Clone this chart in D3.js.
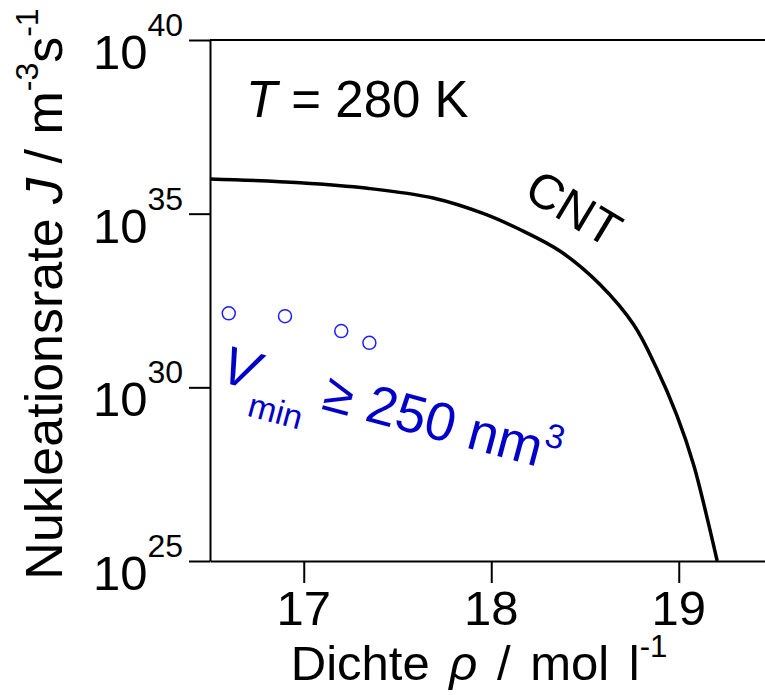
<!DOCTYPE html>
<html>
<head>
<meta charset="utf-8">
<script src="https://cdn.jsdelivr.net/npm/d3@7"></script>
<style>
  body { margin: 0; background: #fff; }
  svg { font-family: "Liberation Sans", Arial, Helvetica, sans-serif; }
</style>
</head>
<body>
<svg width="765" height="695"></svg>
<script>
// CNT curve (rho in mol/l, log10 J)
const cntRho = [16.5, 16.98, 17.34, 17.69, 17.96, 18.15, 18.37, 18.58, 18.76, 18.88, 18.99, 19.08, 19.15, 19.205]
const cntLogJ = [36.0, 35.89, 35.73, 35.45, 35.0, 34.55, 33.91, 32.96, 31.8, 30.57, 29.19, 27.76, 26.27, 25.0]

// simulation points, V_min >= 250 nm^3
const simRho = [16.6, 16.9, 17.2, 17.35]
const simLogJ = [32.13, 32.05, 31.62, 31.28]

const xTicks = [17, 18, 19]
const yTickExp = [25, 30, 35, 40]

const svg = d3.select("svg")
const plotL = 210, plotR = 765, plotT = 40, plotB = 561

const x = d3.scaleLinear().domain([16.5, 19.46]).range([plotL, plotR])
const y = d3.scaleLog().domain([1e25, 1e40]).range([plotB, plotT])

// frame
svg.append("line")
    .attr("x1", plotL).attr("x2", plotR)
    .attr("y1", plotT).attr("y2", plotT)
    .attr("stroke", "#000").attr("stroke-width", 2)

const xAxis = svg.append("g")
    .attr("transform", "translate(0," + plotB + ")")
    .call(d3.axisBottom(x).tickValues(xTicks).tickSize(22).tickSizeOuter(0).tickFormat(""))
xAxis.selectAll("line, path").attr("stroke", "#000").attr("stroke-width", 2)

const yAxis = svg.append("g")
    .attr("transform", "translate(" + plotL + ",0)")
    .call(d3.axisLeft(y).tickValues(yTickExp.map(e => Math.pow(10, e))).tickSize(21).tickSizeOuter(0).tickFormat(""))
yAxis.selectAll("line, path").attr("stroke", "#000").attr("stroke-width", 2)

// x tick labels
svg.append("g").selectAll("text")
    .data(xTicks)
    .enter().append("text")
    .attr("x", d => x(d))
    .attr("y", 625)
    .attr("text-anchor", "middle")
    .attr("font-size", 49)
    .text(d => d)

// y tick labels 10^n
const yl = svg.append("g").selectAll("text")
    .data(yTickExp)
    .enter().append("text")
    .attr("x", 183)
    .attr("y", d => y(Math.pow(10, d)) + 29)
    .attr("text-anchor", "end")
    .attr("font-size", 49)
yl.append("tspan").text("10")
yl.append("tspan").attr("font-size", 32).attr("dy", -33).text(d => d)

// axis titles
const xt = svg.append("text")
    .attr("x", 479).attr("y", 680)
    .attr("text-anchor", "middle")
    .attr("font-size", 49)
    .attr("word-spacing", 6)
xt.append("tspan").text("Dichte ")
xt.append("tspan").attr("font-style", "italic").text("ρ")
xt.append("tspan").text(" / mol l")
xt.append("tspan").attr("font-size", 31).attr("dy", -23).text("-1")

const yt = svg.append("text")
    .attr("transform", "translate(62,294) rotate(-90)")
    .attr("text-anchor", "middle")
    .attr("font-size", 52)
yt.append("tspan").text("Nukleationsrate ")
yt.append("tspan").attr("font-style", "italic").text("J")
yt.append("tspan").text(" / m")
yt.append("tspan").attr("font-size", 32).attr("dy", -24).text("-3")
yt.append("tspan").attr("dy", 24).text("s")
yt.append("tspan").attr("font-size", 32).attr("dy", -24).text("-1")

// CNT curve
const cnt = cntRho.map((r, i) => [r, Math.pow(10, cntLogJ[i])])
svg.append("path")
    .datum(cnt)
    .attr("fill", "none")
    .attr("stroke", "#000")
    .attr("stroke-width", 3.5)
    .attr("d", d3.line().x(d => x(d[0])).y(d => y(d[1])).curve(d3.curveCatmullRom.alpha(0.5)))

// simulation circles
svg.append("g").selectAll("circle")
    .data(simRho.map((r, i) => [r, Math.pow(10, simLogJ[i])]))
    .enter().append("circle")
    .attr("cx", d => x(d[0]))
    .attr("cy", d => y(d[1]))
    .attr("r", 6.5)
    .attr("fill", "none")
    .attr("stroke", "#1e1eff")
    .attr("stroke-width", 1.5)

// annotations
const tl = svg.append("text")
    .attr("x", 246).attr("y", 117)
    .attr("font-size", 51)
tl.append("tspan").attr("font-style", "italic").text("T")
tl.append("tspan").text(" = 280 K")

svg.append("text")
    .attr("transform", "translate(522,197) rotate(31)")
    .attr("font-size", 49)
    .text("CNT")

const vl = svg.append("text")
    .attr("transform", "translate(218,381) rotate(15)")
    .attr("font-size", 54)
    .attr("fill", "#0000c8")
vl.append("tspan").attr("font-style", "italic").text("V")
vl.append("tspan").attr("font-size", 34).attr("dy", 26).text("min")
vl.append("tspan").attr("dy", -26).text(" ≥ 250 nm")
vl.append("tspan").attr("font-size", 34).attr("dy", -22).text("3")
</script>
</body>
</html>
